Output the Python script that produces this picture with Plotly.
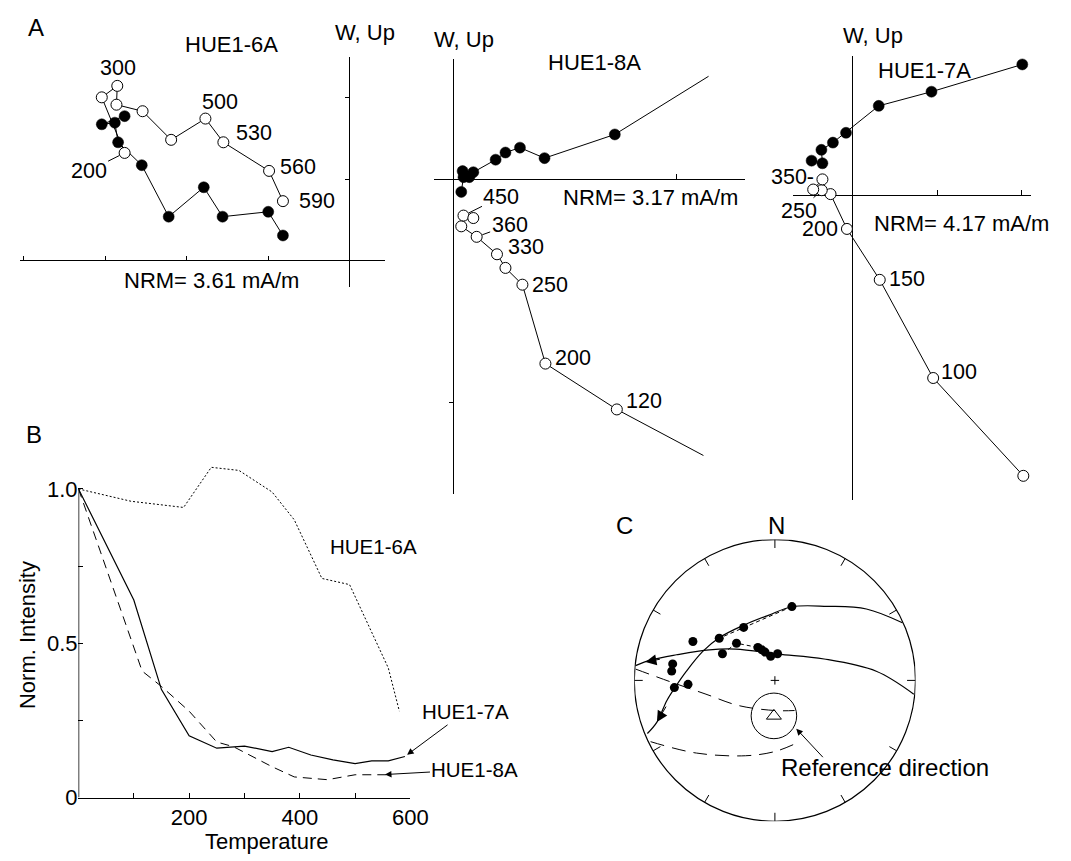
import numpy as np
import plotly.graph_objects as go

W, H = 1071, 861
FONT = "Liberation Sans, Arial, Helvetica, sans-serif"

# ---------------- Panel A: orthogonal vector plots (units = one axis tick) ----------------
# HUE1-6A
a6_open_x = [-2.76, -3.04, -2.85, -2.86, -2.54, -2.19, -1.77, -1.55, -0.99, -0.82]
a6_open_y = [1.32, 2.00, 2.14, 1.91, 1.83, 1.48, 1.74, 1.45, 1.10, 0.73]
a6_solid_x = [-2.76, -3.04, -2.88, -2.84, -2.55, -2.22, -1.79, -1.56, -1.00, -0.82]
a6_solid_y = [1.77, 1.67, 1.69, 1.45, 1.17, 0.54, 0.90, 0.54, 0.60, 0.31]
a6_labels = ["200", "", "300", "", "", "", "500", "530", "560", "590"]

# HUE1-8A (first entry = NRM, outside the frame: line end only)
a8_open_x = [1.119, 0.731, 0.411, 0.308, 0.232, 0.194, 0.103, 0.034, 0.044, 0.088]
a8_open_y = [-1.235, -1.029, -0.824, -0.471, -0.396, -0.335, -0.257, -0.210, -0.162, -0.173]
a8_labels = ["", "120", "200", "250", "", "330", "360", "", "450", ""]
a8_solid_x = [1.142, 0.722, 0.407, 0.297, 0.232, 0.188, 0.088, 0.070, 0.040, 0.044, 0.034]
a8_solid_y = [0.461, 0.201, 0.095, 0.142, 0.120, 0.088, 0.032, 0.010, 0.037, 0.010, -0.056]

# HUE1-7A
a7_open_x = [2.016, 0.950, 0.318, -0.070, -0.264, -0.368, -0.360, -0.469]
a7_open_y = [-3.314, -2.159, -1.000, -0.399, 0.012, 0.058, 0.186, 0.066]
a7_labels = ["", "100", "150", "200", "", "250", "350-", ""]
a7_solid_x = [2.004, 0.930, 0.306, -0.081, -0.236, -0.372, -0.360, -0.488]
a7_solid_y = [1.543, 1.221, 1.054, 0.736, 0.620, 0.535, 0.376, 0.407]

# ---------------- Panel B: normalized intensity decay ----------------
b_temp_7a = [0, 100, 150, 200, 250, 300, 350, 380, 420, 460, 500, 530, 560, 590]
b_int_7a = [1.0, 0.64, 0.35, 0.20, 0.16, 0.167, 0.149, 0.163, 0.138, 0.122, 0.11, 0.119, 0.119, 0.133]
b_temp_8a = [0, 115, 150, 200, 250, 280, 350, 390, 450, 500, 560]
b_int_8a = [1.0, 0.41, 0.36, 0.28, 0.18, 0.165, 0.10, 0.067, 0.058, 0.074, 0.074]
b_temp_6a = [0, 95, 190, 240, 290, 350, 390, 440, 490, 560, 580]
b_int_6a = [1.0, 0.96, 0.94, 1.07, 1.06, 0.99, 0.90, 0.71, 0.69, 0.42, 0.28]
b_xticks = [100, 200, 300, 400, 500, 600]
b_xticktext = ["", "200", "", "400", "", "600"]
b_yticks = [0, 0.25, 0.5, 0.75, 1.0]
b_yticktext = ["0", "", "0.5", "", "1.0"]

# ---------------- Panel C: equal-area stereonet (projected, unit radius) ----------------
c_pts_x = [0.121, -0.222, -0.396, -0.583, -0.273, -0.373, -0.121, -0.093, -0.070, -0.030, 0.019,
           -0.727, -0.734, -0.618, -0.715]
c_pts_y = [0.524, 0.376, 0.299, 0.276, 0.264, 0.189, 0.234, 0.217, 0.201, 0.171, 0.189,
           0.117, 0.066, -0.028, -0.051]
c_path_x = [0.121, -0.222, -0.396, None, -0.373, -0.273, -0.121]
c_path_y = [0.524, 0.376, 0.299, None, 0.189, 0.264, 0.234]
gc1_x = [0.907, 0.651, 0.372, 0.123, -0.047, -0.222, -0.396, -0.513, -0.629, -0.711, -0.769, -0.839, -0.907]
gc1_y = [0.409, 0.507, 0.526, 0.523, 0.462, 0.392, 0.303, 0.206, 0.066, -0.051, -0.144, -0.296, -0.377]
gc2_x = [0.988, 0.721, 0.350, 0.023, -0.280, -0.466, -0.699, -0.874, -0.991]
gc2_y = [-0.098, 0.065, 0.152, 0.187, 0.222, 0.217, 0.182, 0.147, 0.105]
gc3_x = [-0.99, -0.746, -0.490, -0.257, 0.0, 0.140]
gc3_y = [0.08, -0.009, -0.098, -0.179, -0.214, -0.214]
gc4_x = [-0.884, -0.558, -0.209, 0.0, 0.151]
gc4_y = [-0.435, -0.516, -0.535, -0.505, -0.447]
ref_dir = (-0.007, -0.252)
ref_a95 = 0.162
c_tick_az = list(range(0, 360, 30))


def X(px):
    return px / W


def Y(py):
    return 1 - py / H


fig = go.Figure()
layout = dict(width=W, height=H, margin=dict(l=0, r=0, t=0, b=0),
              paper_bgcolor="white", plot_bgcolor="rgba(0,0,0,0)",
              showlegend=False, font=dict(family=FONT, size=22, color="black"))


def zij_axes(k, x0, x1, y0, y1, ox, oy, unit, xt, yt):
    xa = dict(domain=[X(x0), X(x1)], range=[(x0 - ox) / unit, (x1 - ox) / unit],
              anchor="free", position=Y(oy), showgrid=False, showline=False,
              zeroline=True, zerolinecolor="black", zerolinewidth=1,
              tickvals=xt, ticks="inside", ticklen=5, tickwidth=1, tickcolor="black",
              showticklabels=False, fixedrange=True)
    ya = dict(domain=[Y(y1), Y(y0)], range=[(oy - y1) / unit, (oy - y0) / unit],
              anchor="free", position=X(ox), showgrid=False, showline=False,
              zeroline=True, zerolinecolor="black", zerolinewidth=1,
              tickvals=yt, ticks="outside", ticklen=5, tickwidth=1, tickcolor="black",
              showticklabels=False, fixedrange=True)
    sx = "xaxis" if k == 1 else f"xaxis{k}"
    sy = "yaxis" if k == 1 else f"yaxis{k}"
    layout[sx] = xa
    layout[sy] = ya


zij_axes(1, 12, 383, 50, 283, 347.7, 256.7, 83, [-4, -3, -2, -1], [1, 2])
zij_axes(2, 433.3, 750, 51.7, 493, 453.3, 174, 227, [1], [-1])
zij_axes(3, 798.3, 1040, 48.3, 500, 859.3, 190, 86, [1, 2], [])

annotations = []
MS = 11


def text_ann(txt, px, py, fs, **kw):
    d = dict(x=X(px), y=Y(py), xref="paper", yref="paper", text=txt, showarrow=False,
             xanchor="center", yanchor="middle", font=dict(size=fs))
    d.update(kw)
    annotations.append(d)


def zij_traces(k, ox_, oy_, sx_, sy_, hide_first):
    xr = "x" if k == 1 else f"x{k}"
    yr = "y" if k == 1 else f"y{k}"
    sz_o = [0 if (hide_first and i == 0) else MS for i in range(len(ox_))]
    sz_s = [0 if (hide_first and i == 0) else MS for i in range(len(sx_))]
    fig.add_trace(go.Scatter(x=sx_, y=sy_, xaxis=xr, yaxis=yr, mode="lines+markers",
                             line=dict(color="black", width=1),
                             marker=dict(size=sz_s, color="black", opacity=1,
                                         line=dict(color="black", width=0.5)),
                             cliponaxis=False, hoverinfo="skip"))
    fig.add_trace(go.Scatter(x=ox_, y=oy_, xaxis=xr, yaxis=yr, mode="lines+markers",
                             line=dict(color="black", width=1),
                             marker=dict(size=sz_o, color="white", opacity=1,
                                         line=dict(color="black", width=1)),
                             cliponaxis=False, hoverinfo="skip"))
    return xr, yr


def add_labels(xr, yr, xs, ys, labels, offsets):
    for xv, yv, lab in zip(xs, ys, labels):
        if not lab:
            continue
        kind, dx, dy = offsets[lab]
        if kind == "arrow":
            annotations.append(dict(x=xv, y=yv, xref=xr, yref=yr, text=lab, showarrow=True,
                                    ax=dx, ay=dy, arrowhead=0, arrowwidth=1, arrowcolor="black",
                                    xanchor="center", yanchor="middle",
                                    standoff=6, font=dict(size=21.5)))
        else:
            annotations.append(dict(x=xv, y=yv, xref=xr, yref=yr, text=lab, showarrow=False,
                                    xanchor="center", yanchor="middle",
                                    xshift=dx, yshift=dy, font=dict(size=21.5)))


xr, yr = zij_traces(1, a6_open_x, a6_open_y, a6_solid_x, a6_solid_y, False)
add_labels(xr, yr, a6_open_x, a6_open_y, a6_labels,
           {"200": ("arrow", -36, 18), "300": ("t", 1, 18), "500": ("t", 15, 17),
            "530": ("t", 31, 9), "560": ("t", 29, 4), "590": ("t", 34, 0)})

xr, yr = zij_traces(2, a8_open_x, a8_open_y, a8_solid_x, a8_solid_y, True)
add_labels(xr, yr, a8_open_x, a8_open_y, a8_labels,
           {"120": ("t", 27, 8), "200": ("t", 28, 6), "250": ("t", 28, 0), "330": ("t", 29, 7),
            "360": ("arrow", 33, -12), "450": ("arrow", 38, -19)})

xr, yr = zij_traces(3, a7_open_x, a7_open_y, a7_solid_x, a7_solid_y, False)
add_labels(xr, yr, a7_open_x, a7_open_y, a7_labels,
           {"100": ("t", 26, 6), "150": ("t", 27, 1), "200": ("t", -27, 0),
            "250": ("arrow", -23, 21), "350-": ("t", -30, 2)})

# ---------------- Panel B axes ----------------
bx0, bx1, by0 = 71.7, 409.3, 801.7
bunit = 313.4
layout["xaxis4"] = dict(domain=[X(bx0), X(bx1)], range=[0, 600], anchor="y4",
                        showgrid=False, zeroline=False, showline=True, linecolor="black", linewidth=1,
                        tickvals=b_xticks, ticktext=b_xticktext, ticks="inside", ticklen=5,
                        tickcolor="black", tickfont=dict(size=22), fixedrange=True)
layout["yaxis4"] = dict(domain=[Y(by0), Y(by0 - 1.1 * bunit)], range=[0, 1.1], anchor="x4",
                        showgrid=False, zeroline=False, showline=False,
                        tickvals=b_yticks, ticktext=b_yticktext, ticks="inside", ticklen=5,
                        tickcolor="black", tickfont=dict(size=22), fixedrange=True)

fig.add_trace(go.Scatter(x=b_temp_6a, y=b_int_6a, xaxis="x4", yaxis="y4", mode="lines",
                         line=dict(color="black", width=1, dash="2px,2px"), cliponaxis=False, hoverinfo="skip"))
fig.add_trace(go.Scatter(x=b_temp_8a, y=b_int_8a, xaxis="x4", yaxis="y4", mode="lines",
                         line=dict(color="black", width=1, dash="9px,6px"), cliponaxis=False, hoverinfo="skip"))
fig.add_trace(go.Scatter(x=b_temp_7a, y=b_int_7a, xaxis="x4", yaxis="y4", mode="lines",
                         line=dict(color="black", width=1.2), cliponaxis=False, hoverinfo="skip"))

shapes = [dict(type="line", xref="x4", yref="y4", x0=0, x1=0, y0=0, y1=1,
               line=dict(color="black", width=1.5))]

annotations += [
    dict(x=594, y=0.1385, xref="x4", yref="y4", text="HUE1-7A", showarrow=True, ax=58, ay=-43,
         xanchor="center", yanchor="middle",
         arrowhead=2, arrowsize=1.3, arrowwidth=1, arrowcolor="black", font=dict(size=20.5)),
    dict(x=554, y=0.0747, xref="x4", yref="y4", text="HUE1-8A", showarrow=True, ax=90, ay=-5,
         xanchor="center", yanchor="middle",
         arrowhead=2, arrowsize=1.3, arrowwidth=1, arrowcolor="black", font=dict(size=20.5)),
]
text_ann("HUE1-6A", 371.7, 546.7, 20.5)
text_ann("Norm. Intensity", 20, 637, 22, textangle=-90)
text_ann("Temperature", 263.3, 846.7, 22)

# ---------------- Panel C axes ----------------
ccx, ccy, cr = 780, 682.7, 143
layout["xaxis5"] = dict(domain=[X(ccx - cr), X(ccx + cr)], range=[-1, 1], anchor="y5", visible=False,
                        fixedrange=True)
layout["yaxis5"] = dict(domain=[Y(ccy + cr), Y(ccy - cr)], range=[-1, 1], anchor="x5", visible=False,
                        fixedrange=True)

shapes.append(dict(type="circle", xref="x5", yref="y5", x0=-1, x1=1, y0=-1, y1=1,
                   line=dict(color="black", width=1.2)))
shapes.append(dict(type="circle", xref="x5", yref="y5",
                   x0=ref_dir[0] - ref_a95, x1=ref_dir[0] + ref_a95,
                   y0=ref_dir[1] - ref_a95, y1=ref_dir[1] + ref_a95,
                   line=dict(color="black", width=1)))

# primitive ticks every 30 degrees
az = np.radians(c_tick_az)
tx, ty = [], []
for a in az:
    tx += [np.sin(a), 0.94 * np.sin(a), None]
    ty += [np.cos(a), 0.94 * np.cos(a), None]
fig.add_trace(go.Scatter(x=tx, y=ty, xaxis="x5", yaxis="y5", mode="lines",
                         line=dict(color="black", width=1), hoverinfo="skip"))

fig.add_trace(go.Scatter(x=gc3_x, y=gc3_y, xaxis="x5", yaxis="y5", mode="lines", line_shape="spline",
                         line=dict(color="black", width=1, dash="14px,8px"), hoverinfo="skip"))
fig.add_trace(go.Scatter(x=gc4_x, y=gc4_y, xaxis="x5", yaxis="y5", mode="lines", line_shape="spline",
                         line=dict(color="black", width=1, dash="14px,8px"), hoverinfo="skip"))
fig.add_trace(go.Scatter(x=gc1_x, y=gc1_y, xaxis="x5", yaxis="y5", mode="lines", line_shape="spline",
                         line=dict(color="black", width=1.2), hoverinfo="skip"))
fig.add_trace(go.Scatter(x=gc2_x, y=gc2_y, xaxis="x5", yaxis="y5", mode="lines", line_shape="spline",
                         line=dict(color="black", width=1.2), hoverinfo="skip"))
fig.add_trace(go.Scatter(x=c_path_x, y=c_path_y, xaxis="x5", yaxis="y5", mode="lines",
                         line=dict(color="black", width=1, dash="4px,3px"), hoverinfo="skip"))
fig.add_trace(go.Scatter(x=c_pts_x, y=c_pts_y, xaxis="x5", yaxis="y5", mode="markers",
                         marker=dict(size=9, color="black"), hoverinfo="skip"))
fig.add_trace(go.Scatter(x=[0], y=[0], xaxis="x5", yaxis="y5", mode="markers",
                         marker=dict(symbol="cross-thin", size=6, line=dict(color="black", width=1)),
                         hoverinfo="skip"))
fig.add_trace(go.Scatter(x=[ref_dir[0]], y=[ref_dir[1]], xaxis="x5", yaxis="y5", mode="markers",
                         marker=dict(symbol="triangle-up-open", size=13, color="black",
                                     line=dict(color="black", width=1)),
                         hoverinfo="skip"))

annotations += [
    dict(x=gc1_x[-2], y=gc1_y[-2], xref="x5", yref="y5", text="", showarrow=True, ax=10, ay=-17,
         arrowhead=2, arrowsize=2.2, arrowwidth=1, arrowcolor="black"),
    dict(x=-0.921, y=0.131, xref="x5", yref="y5", text="", showarrow=True, ax=16, ay=-3,
         arrowhead=2, arrowsize=2.2, arrowwidth=1, arrowcolor="black"),
    dict(x=0.152, y=-0.343, xref="x5", yref="y5", text="", showarrow=True, ax=28, ay=30,
         arrowhead=2, arrowsize=1.3, arrowwidth=1, arrowcolor="black"),
]
text_ann("Reference direction", 892, 771, 24)
text_ann("N", 781.7, 525, 24)

# ---------------- titles and panel letters ----------------
for txt, px, py, fs in [
    ("A", 28, 20, 24), ("B", 26, 433, 24), ("C", 626.7, 525, 24),
    ("HUE1-6A", 227, 37, 22), ("W, Up", 363, 25, 22), ("NRM= 3.61 mA/m", 207, 277, 22),
    ("HUE1-8A", 596.7, 55, 22), ("W, Up", 463.3, 31.7, 22), ("NRM= 3.17 mA/m", 653.3, 192.7, 22),
    ("HUE1-7A", 931.7, 63.3, 22), ("W, Up", 880, 28.3, 22), ("NRM= 4.17 mA/m", 970, 218.3, 22),
]:
    text_ann(txt, px, py, fs)

layout["annotations"] = annotations
layout["shapes"] = shapes
fig.update_layout(**layout)
fig.write_html("out.html")
